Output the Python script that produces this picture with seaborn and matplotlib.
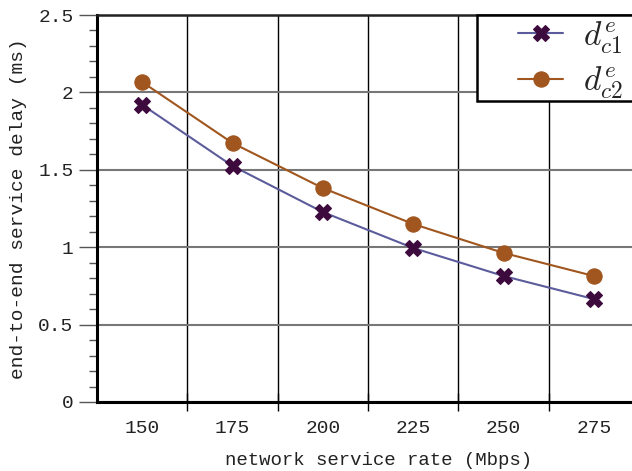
import matplotlib
matplotlib.use("Agg")
import matplotlib.pyplot as plt
import seaborn as sns
import pandas as pd
from matplotlib.ticker import MultipleLocator, FixedLocator
from matplotlib.patches import Rectangle

rates = ["150", "175", "200", "225", "250", "275"]
dc1 = [1.92, 1.525, 1.227, 0.995, 0.814, 0.665]
dc2 = [2.067, 1.673, 1.382, 1.15, 0.963, 0.814]
series_names = [r"$d^e_{c1}$", r"$d^e_{c2}$"]

df = pd.DataFrame({
    "rate": rates * 2,
    "delay": dc1 + dc2,
    "series": [series_names[0]] * len(rates) + [series_names[1]] * len(rates),
})

sns.set_style("white")
plt.rcParams["font.family"] = ["Liberation Mono", "DejaVu Sans Mono"]
plt.rcParams["mathtext.fontset"] = "cm"

W, H = 632, 471
fig = plt.figure(figsize=(W / 100, H / 100), dpi=100)
ax = fig.add_axes([97 / W, (H - 402) / H, (639 - 97) / W, (402 - 15) / H])

line_colors = ["#5c5c9c", "#a0561e"]
marker_colors = ["#3d0a3d", "#a0561e"]
markers = ["X", "o"]

for i, name in enumerate(series_names):
    sub = df[df["series"] == name]
    sns.lineplot(data=sub, x="rate", y="delay", ax=ax, color=line_colors[i],
                 marker=markers[i], markersize=11, markerfacecolor=marker_colors[i],
                 markeredgecolor=marker_colors[i], markeredgewidth=0.8,
                 linewidth=1.5, label=name, sort=False)

ax.set_xlim(-0.5, len(rates) - 0.5)
ax.set_ylim(0, 2.5)

ax.xaxis.set_major_locator(FixedLocator(range(len(rates))))
ax.set_xticklabels(rates)
ax.xaxis.set_minor_locator(FixedLocator([k + 0.5 for k in range(len(rates) - 1)]))
ax.tick_params(axis="x", which="major", length=0, pad=13, labelsize=14, labelcolor="#222222")
ax.tick_params(axis="x", which="minor", length=13, width=1, color="black", direction="inout", bottom=True)

ax.yaxis.set_minor_locator(MultipleLocator(0.1))
ax.set_yticks([0, 0.5, 1, 1.5, 2, 2.5])
ax.set_yticklabels(["0", "0.5", "1", "1.5", "2", "2.5"])
ax.tick_params(axis="y", which="major", length=13, width=1, color="#555555", direction="out", left=True, labelsize=14, pad=4, labelcolor="#222222")
ax.tick_params(axis="y", which="minor", length=6, width=1, color="#555555", direction="out", left=True)

ax.grid(False)
ax.grid(True, axis="x", which="minor", color="black", linewidth=1)
ax.grid(True, axis="y", which="major", color="#777777", linewidth=1.5)

for s in ["left", "bottom"]:
    ax.spines[s].set_linewidth(2.2)
    ax.spines[s].set_color("black")
ax.spines["top"].set_linewidth(1.8)
ax.spines["top"].set_color("#222222")
ax.spines["right"].set_visible(False)

ax.set_xlabel("network service rate (Mbps)", fontsize=13.7, labelpad=12, color="#222222")
ax.xaxis.set_label_coords((379 - 97) / (639 - 97), -0.128)
ax.xaxis.label.set_verticalalignment("top")
ax.set_ylabel("end-to-end service delay (ms)", fontsize=14, labelpad=8, color="#222222")

# legend frame box
frame = Rectangle((477 / W, (H - 101) / H), (645 - 477) / W, (101 - 15) / H,
                  transform=fig.transFigure, facecolor="white", edgecolor="black",
                  linewidth=1.8, zorder=10)
fig.patches.append(frame)

leg = ax.legend(loc="upper left", bbox_to_anchor=(518 / W, (H - 19) / H),
                bbox_transform=fig.transFigure, borderaxespad=0, borderpad=0,
                frameon=False, fontsize=24, handlelength=1.36,
                labelspacing=0.28, handletextpad=0.6)
leg.set_zorder(11)
fig.legends.append(leg)
if ax.get_legend() is not None:
    ax.get_legend().remove()

fig.savefig("out.png", dpi=100)
